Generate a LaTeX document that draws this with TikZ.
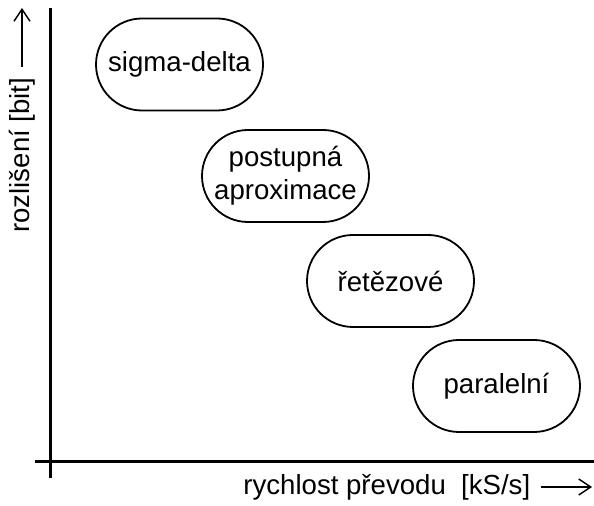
\documentclass[tikz,border=0pt]{standalone}
\usepackage{fontspec}
\setmainfont{Liberation Sans}
\usetikzlibrary{arrows.meta}

\tikzset{
  adc/.style={draw=black, line width=0.9pt, rounded corners=23pt,
    minimum width=83.5pt, minimum height=46pt, inner sep=0pt,
    align=center, font=\fontsize{13.8}{16.5}\selectfont},
  axis/.style={black, line width=1.5pt},
  lbl/.style={font=\fontsize{13.8}{16.5}\selectfont, inner sep=0pt},
  textarrow/.style={line width=0.7pt, -{Straight Barb[length=6pt,width=8pt]}}
}

\begin{document}
\begin{tikzpicture}[x=0.5pt,y=-0.5pt]
\useasboundingbox (0,0) rectangle (594,506);

% axes
\coordinate (ytop) at (50,8);
\coordinate (ybot) at (50,478);
\coordinate (xleft) at (35,462);
\coordinate (xright) at (594,462);
\draw[axis] (ybot) -- (ytop);
\draw[axis] (xleft) -- (xright);

% converter types
\node[adc] (sigma) at (179.5,64.5) {sigma-delta};
\node[adc] (sar) at (285.5,176) {postupná\\aproximace};
\node[adc] (pipe) at (390.5,281) {řetězové};
\node[adc] (flash) at (496.5,386) {paralelní};

% axis labels
\node[lbl, anchor=west] (xlab) at (243,487) {rychlost převodu\ \ [kS/s]};
\coordinate (xtip) at (592,487);
\draw[textarrow] ([xshift=5pt]xlab.east) -- (xtip);

\node[lbl, rotate=90, anchor=west] (ylab) at (22,233) {rozlišení [bit]};
\coordinate (ytip) at (22,8);
\draw[textarrow] ([yshift=5pt]ylab.east) -- (ytip);

\end{tikzpicture}
\end{document}
